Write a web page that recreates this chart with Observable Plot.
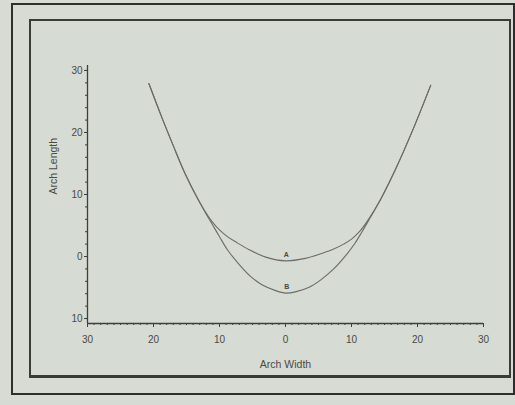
<!DOCTYPE html>
<html>
<head>
<meta charset="utf-8">
<script src="https://cdn.jsdelivr.net/npm/d3@7"></script>
<script src="https://cdn.jsdelivr.net/npm/@observablehq/plot@0.6"></script>
<style>
  html, body { margin: 0; padding: 0; }
  body { width: 515px; height: 405px; background: #d6dbd3; position: relative; overflow: hidden; }
  #outer { position: absolute; left: 11px; top: 3px; width: 500px; height: 388px; border: 2px solid #2e2e2c; }
  #inner { position: absolute; left: 29px; top: 19px; width: 478px; height: 354px; border: 2px solid #3a3a37; border-bottom-width: 3px; }
  #chart { position: absolute; left: 0; top: 0; }
</style>
</head>
<body>
<div id="outer"></div>
<div id="inner"></div>
<div id="chart"></div>
<script>
// Curve A
const aX = [-20.7, -18.8, -16.9, -15.4, -13.4, -12.2, -11.1, -10.0, -8.8, -7.3, -5.5, -3.0, 0, 3.0, 5.5, 7.3, 8.8, 10.0, 11.2, 12.4, 14.4, 16.9, 19.4, 22.0];
const aY = [27.9, 22.6, 17.6, 13.8, 9.5, 7.3, 5.6, 4.3, 3.2, 2.2, 1.1, -0.1, -0.7, -0.3, 0.5, 1.2, 2.0, 2.8, 4.0, 5.7, 9.2, 14.6, 20.7, 27.6];
// Curve B
const bX = [-20.7, -18.8, -16.9, -15.4, -13.4, -12.2, -11.1, -10.0, -8.8, -7.0, -5.3, -3.5, -1.5, 0, 1.5, 3.5, 5.3, 7.3, 9.3, 10.5, 11.6, 12.8, 14.4, 16.9, 19.4, 22.0];
const bY = [27.9, 22.6, 17.6, 13.8, 9.5, 7.2, 5.2, 3.2, 1.1, -1.3, -3.2, -4.6, -5.5, -5.9, -5.7, -5.0, -3.8, -2.0, 0.4, 2.1, 4.0, 6.2, 9.2, 14.6, 20.7, 27.6];
// Curve labels
const curveNames = ["A", "B"];
const curveLabelX = [0.1, 0.2];
const curveLabelY = [-0.7, -5.9];
// Ticks
const xTicks = [-30, -20, -10, 0, 10, 20, 30];
const yTicks = [-10, 0, 10, 20, 30];
const xMinor = d3.range(-30, 31, 1);
const yMinor = d3.range(-10, 31, 2);

const dataA = aX.map((x, i) => ({x, y: aY[i]}));
const dataB = bX.map((x, i) => ({x, y: bY[i]}));
const labels = curveNames.map((t, i) => ({t, x: curveLabelX[i], y: curveLabelY[i]}));

const ink = "#3f3f3c";
const curveInk = "#6c6d68";

const chart = Plot.plot({
  width: 515,
  height: 405,
  marginLeft: 87,
  marginRight: 32,
  marginTop: 65,
  marginBottom: 82,
  x: {domain: [-30, 30]},
  y: {domain: [-10.8, 30.8]},
  style: {background: "transparent", fontFamily: "'Liberation Sans', 'DejaVu Sans', sans-serif", fontSize: "10px", color: "#4a4a47"},
  marks: [
    Plot.axisX({ticks: xMinor, tickSize: 2, tickFormat: () => "", label: null, stroke: ink}),
    Plot.axisX({ticks: xTicks, tickSize: 4, tickPadding: 8, tickFormat: d => Math.abs(d), label: null, stroke: ink}),
    Plot.axisY({ticks: yMinor, tickSize: 2, tickFormat: () => "", label: null, stroke: ink}),
    Plot.axisY({ticks: yTicks, tickSize: 3, tickPadding: 2, tickFormat: d => Math.abs(d), label: null, stroke: ink}),
    Plot.ruleX([-30], {y1: -10.8, y2: 30.8, stroke: ink, strokeWidth: 1.3}),
    Plot.ruleY([-10.8], {x1: -30, x2: 30, stroke: ink, strokeWidth: 1.3}),
    Plot.line(dataA, {x: "x", y: "y", curve: "catmull-rom", stroke: curveInk, strokeWidth: 1.1}),
    Plot.line(dataB, {x: "x", y: "y", curve: "catmull-rom", stroke: curveInk, strokeWidth: 1.1}),
    Plot.text(labels, {x: "x", y: "y", text: "t", dy: -6, fontSize: 7, fontWeight: "bold", fill: "#4a4a47"}),
    Plot.text(["Arch Width"], {frameAnchor: "bottom", dy: 44, fontSize: 10.5, fill: "#4a4a47"}),
    Plot.text(["Arch Length"], {frameAnchor: "left", dx: -34, rotate: -90, fontSize: 10.5, fill: "#4a4a47"})
  ]
});
document.getElementById("chart").appendChild(chart);
</script>
</body>
</html>
